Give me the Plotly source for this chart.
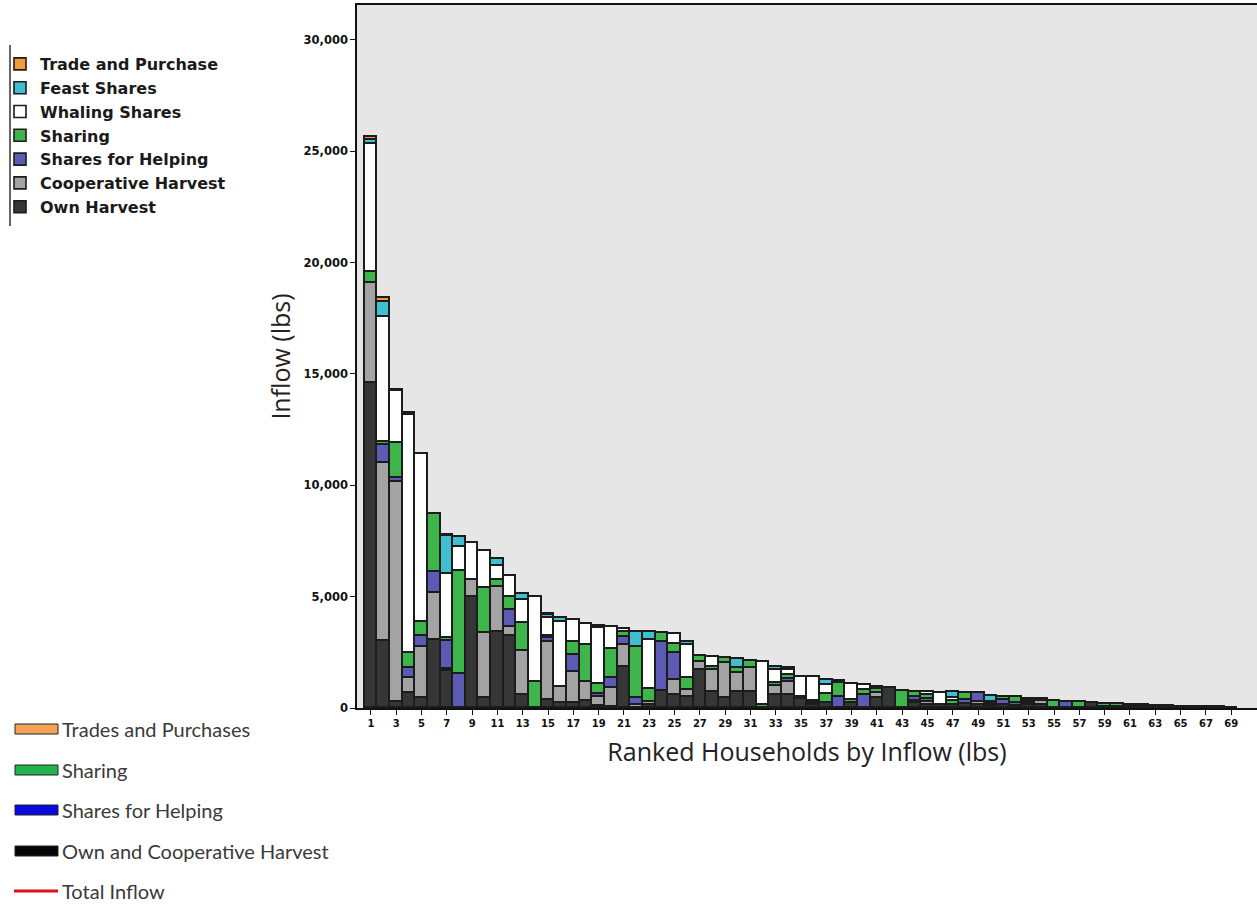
import plotly.graph_objects as go

# Ranked households (1 = largest total inflow)
households = list(range(1, 70))

# Inflow components per household (lbs), stacked bottom to top
own_harvest = [14600, 3000, 270, 670, 450, 3050, 1650, 0, 4980, 450,
               3410, 3230, 580, 0, 360, 220, 220, 310, 100, 50,
               1840, 0, 130, 760, 580, 490, 1700, 720, 450, 720,
               720, 0, 580, 580, 400, 130, 220, 0, 220, 0,
               450, 900, 0, 220, 130, 130, 150, 180, 130, 90,
               130, 90, 130, 130, 0, 0, 0, 220, 50, 50,
               40, 40, 30, 90, 60, 45, 40, 30, 20]
cooperative_harvest = [4500, 8000, 9900, 670, 2290, 2110, 100, 0, 760, 2910,
                       2020, 400, 1980, 0, 2600, 720, 1390, 860, 400, 850,
                       980, 130, 130, 0, 680, 320, 360, 980, 1570, 850,
                       1070, 0, 400, 590, 0, 90, 0, 0, 0, 0,
                       220, 0, 0, 100, 130, 0, 0, 0, 130, 0,
                       0, 0, 90, 180, 0, 0, 0, 0, 0, 0,
                       0, 0, 0, 0, 0, 0, 0, 0, 0]
shares_for_helping = [0, 800, 150, 450, 490, 940, 1250, 1520, 0, 0,
                      0, 760, 0, 0, 180, 0, 770, 0, 130, 450,
                      360, 320, 0, 2200, 1210, 0, 0, 0, 0, 0,
                      0, 0, 0, 130, 0, 0, 0, 490, 0, 600,
                      0, 0, 0, 180, 130, 0, 0, 180, 400, 90,
                      220, 130, 0, 0, 0, 270, 0, 0, 0, 0,
                      0, 0, 0, 0, 0, 0, 0, 0, 0]
sharing = [500, 150, 1600, 680, 630, 2600, 130, 4620, 0, 2020,
           310, 590, 1250, 1170, 90, 0, 580, 1650, 450, 1300,
           220, 2290, 580, 400, 400, 540, 270, 140, 220, 220,
           320, 130, 130, 180, 90, 90, 410, 630, 130, 200,
           180, 0, 760, 220, 200, 0, 180, 310, 0, 90,
           130, 270, 0, 0, 310, 0, 270, 0, 130, 130,
           90, 90, 60, 0, 0, 0, 0, 0, 0]
whaling_shares = [5750, 5600, 2300, 10670, 7530, 0, 2870, 1080, 1660, 1660,
                  630, 940, 1030, 3810, 810, 2920, 990, 950, 2510, 980,
                  130, 0, 2200, 0, 450, 1470, 0, 450, 0, 0,
                  0, 1930, 580, 220, 900, 1080, 400, 0, 720, 230,
                  0, 0, 0, 0, 130, 540, 100, 0, 0, 0,
                  0, 0, 90, 0, 0, 0, 0, 0, 0, 0,
                  0, 0, 0, 0, 0, 0, 0, 0, 0]
feast_shares = [150, 700, 0, 130, 0, 0, 1710, 450, 0, 0,
                310, 0, 270, 0, 130, 180, 0, 0, 90, 0,
                0, 670, 360, 0, 0, 140, 0, 0, 0, 410,
                0, 0, 150, 90, 0, 0, 230, 0, 0, 0,
                0, 0, 0, 0, 0, 0, 300, 0, 0, 270,
                0, 0, 90, 90, 0, 0, 0, 0, 0, 0,
                0, 0, 0, 0, 0, 0, 0, 0, 0]
trade_and_purchase = [150, 150, 50, 0, 0, 0, 50, 0, 0, 0,
                      0, 0, 0, 0, 40, 0, 0, 0, 0, 0,
                      0, 0, 0, 0, 0, 0, 0, 0, 0, 0,
                      0, 0, 0, 0, 0, 0, 0, 90, 0, 0,
                      90, 0, 0, 0, 0, 0, 0, 0, 0, 0,
                      0, 0, 0, 0, 0, 0, 0, 0, 0, 0,
                      0, 0, 0, 0, 0, 0, 0, 0, 0]

series_names = ["Own Harvest", "Cooperative Harvest", "Shares for Helping",
                "Sharing", "Whaling Shares", "Feast Shares", "Trade and Purchase"]
series_values = [own_harvest, cooperative_harvest, shares_for_helping,
                 sharing, whaling_shares, feast_shares, trade_and_purchase]
series_colors = ["#363636", "#a3a3a3", "#5b5bb6", "#3db54a",
                 "#ffffff", "#3fbfcf", "#f39a3e"]

y_ticks = [0, 5000, 10000, 15000, 20000, 25000, 30000]
x_ticks = list(range(1, 70, 2))

# Second key shown below the chart
key2_labels = ["Trades and Purchases", "Sharing", "Shares for Helping",
               "Own and Cooperative Harvest", "Total Inflow"]
key2_colors = ["#f5a256", "#22b24f", "#0a0ae0", "#050505", "#e01010"]

W, H = 1257, 907
L, R, T, B = 357, 0, 5, 199
PW, PH = W - L - R, H - T - B


def px_x(px):
    return (px - L) / PW


def px_y(py):
    return (T + PH - py) / PH


fig = go.Figure()
for name, vals, col in zip(series_names, series_values, series_colors):
    fig.add_trace(go.Bar(
        x=households,
        y=[v if v else None for v in vals],
        name=name,
        marker=dict(color=col, line=dict(color="#1c1c1c", width=1.6)),
    ))

shapes = [dict(type="line", xref="paper", yref="paper",
               x0=px_x(10), x1=px_x(10), y0=px_y(45), y1=px_y(226),
               line=dict(color="#333", width=1.5))]
annotations = []
key_rows = [729, 770, 810, 851, 891]
for lab, col, yc in zip(key2_labels, key2_colors, key_rows):
    if lab == "Total Inflow":
        shapes.append(dict(type="line", xref="paper", yref="paper",
                           x0=px_x(14), x1=px_x(58), y0=px_y(yc), y1=px_y(yc),
                           line=dict(color=col, width=3)))
    else:
        shapes.append(dict(type="rect", xref="paper", yref="paper",
                           x0=px_x(15), x1=px_x(58), y0=px_y(yc - 5), y1=px_y(yc + 5),
                           fillcolor=col, line=dict(color="#222", width=1)))
    annotations.append(dict(xref="paper", yref="paper", x=px_x(60), y=px_y(yc),
                            text=lab, showarrow=False, xanchor="left", yanchor="middle",
                            font=dict(family="Lato", size=20, color="#3a3a3a")))

fig.update_layout(
    width=W, height=H,
    margin=dict(l=L, r=R, t=T, b=B),
    barmode="stack", bargap=0.0,
    paper_bgcolor="white", plot_bgcolor="#e6e6e6",
    showlegend=True,
    legend=dict(xref="container", yref="container", x=0.0, y=1 - 47 / H,
                xanchor="left", yanchor="top", traceorder="reversed",
                bgcolor="rgba(255,255,255,0)", itemwidth=30,
                font=dict(family="DejaVu Sans", size=16, color="#1a1a1a", weight="bold")),
    shapes=shapes,
    annotations=annotations,
    xaxis=dict(range=[-0.1, 71.04], tickmode="array", tickvals=x_ticks,
               ticktext=[str(v) for v in x_ticks], ticks="outside", ticklen=5,
               tickcolor="#111", showline=True, linecolor="#111", linewidth=1.5,
               mirror=True, showgrid=False, zeroline=False,
               tickfont=dict(family="DejaVu Sans", size=10, color="#111", weight="bold"),
               title=dict(text="Ranked Households by Inflow (lbs)", standoff=16,
                          font=dict(family="Open Sans", size=25, color="#222"))),
    yaxis=dict(range=[0, 31570], tickmode="array", tickvals=y_ticks,
               ticktext=[f"{v:,}" for v in y_ticks], ticks="outside", ticklen=5,
               tickcolor="#111", showline=True, linecolor="#111", linewidth=1.5,
               showgrid=False, zeroline=False,
               tickfont=dict(family="DejaVu Sans", size=11.5, color="#111", weight="bold"),
               title=dict(text="Inflow (lbs)", standoff=6,
                          font=dict(family="Open Sans", size=25, color="#222"))),
)

fig.write_html("out.html")
